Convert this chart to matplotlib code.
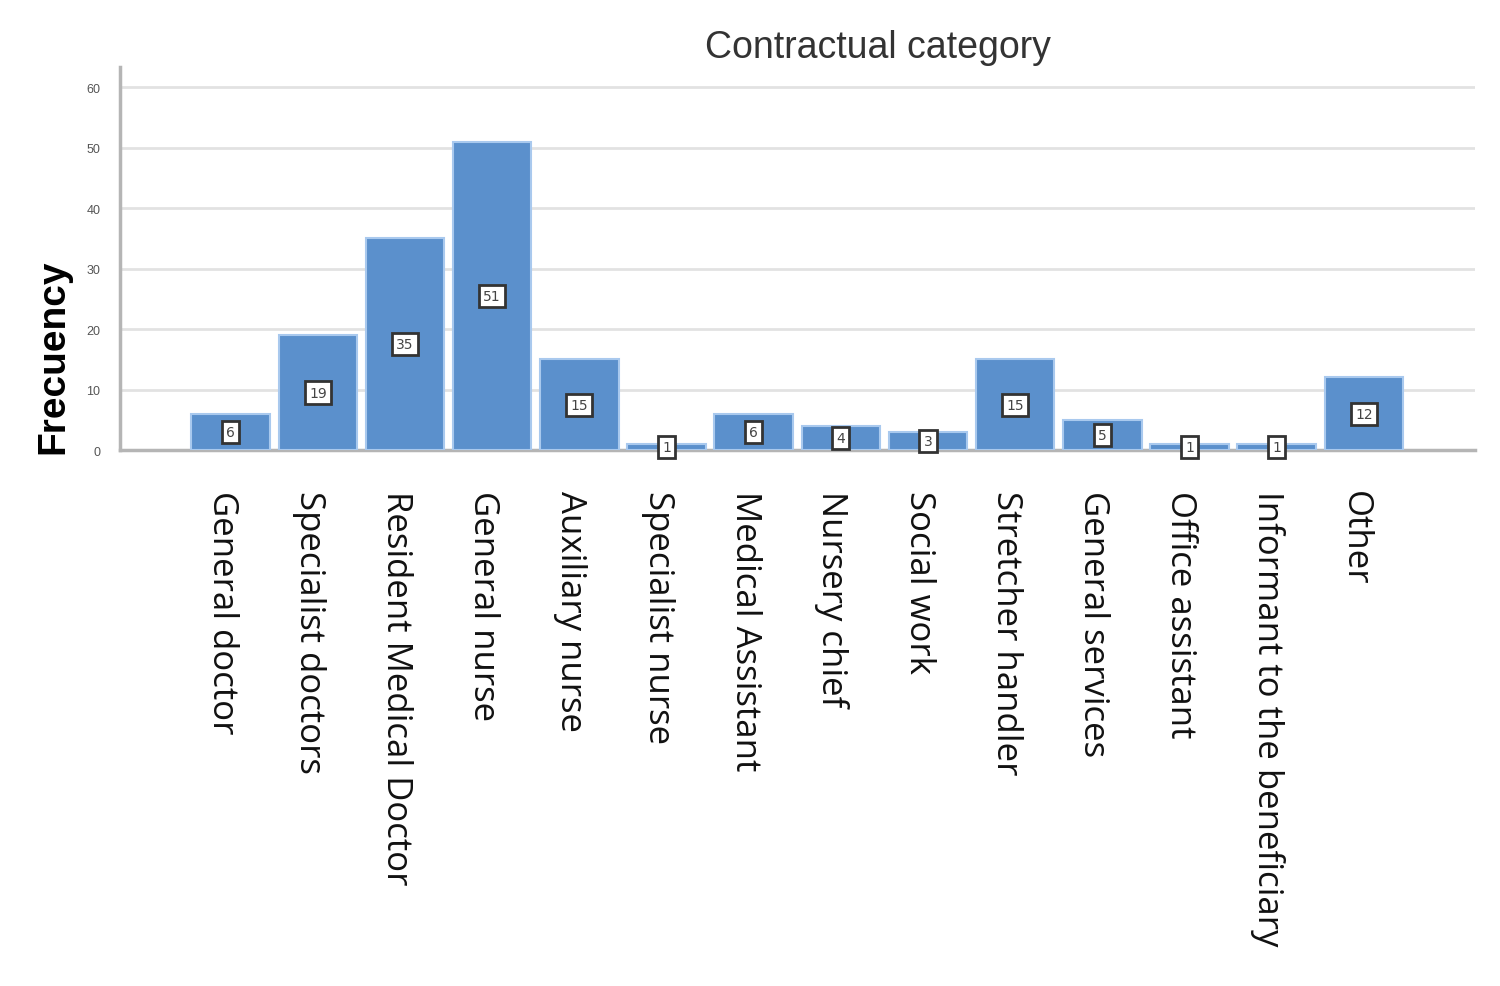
import matplotlib
matplotlib.use("Agg")
import matplotlib.pyplot as plt
import matplotlib.transforms as mtransforms
import numpy as np

categories = ["General doctor", "Specialist doctors", "Resident Medical Doctor",
              "General nurse", "Auxiliary nurse", "Specialist nurse",
              "Medical Assistant", "Nursery chief", "Social work",
              "Stretcher handler", "General services", "Office assistant",
              "Informant to the beneficiary", "Other"]
counts = [6, 19, 35, 51, 15, 1, 6, 4, 3, 15, 5, 1, 1, 12]
yticks = [0, 10, 20, 30, 40, 50, 60]

fig = plt.figure(figsize=(15, 9.87), dpi=100)
ax = fig.add_axes([0.08, 0.543, 0.903, 0.388])

x = np.arange(len(categories))
ax.bar(x, counts, width=0.9, color="#5b90cc", edgecolor="#a9c9ee", linewidth=1.5, zorder=3)

for xi, v in zip(x, counts):
    ax.text(xi, v / 2, str(v), ha="center", va="center", fontsize=10, color="#444444",
            zorder=4, family="DejaVu Sans",
            bbox=dict(boxstyle="square,pad=0.3", facecolor="white", edgecolor="#333333", linewidth=2))

ax.set_xlim(-1.27, len(categories) - 1 + 1.27)
ax.set_ylim(0, 63.3)
ax.set_yticks(yticks)
ax.set_yticklabels([str(t) for t in yticks], fontsize=9, color="#555555", family="Liberation Sans")
ax.yaxis.grid(True, color="#e2e2e2", linewidth=2, zorder=0)
ax.set_axisbelow(True)

ax.set_xticks(x)
ax.set_xticklabels(categories, rotation=270, fontsize=25, family="Open Sans",
                   va="top", ha="center", color="#111111")
ax.tick_params(axis="x", length=0, pad=29)
ax.tick_params(axis="y", length=0, pad=14)
offset = mtransforms.ScaledTranslation(-9 / 100, 0, fig.dpi_scale_trans)
for lbl in ax.get_xticklabels():
    lbl.set_transform(lbl.get_transform() + offset)

for s in ["top", "right"]:
    ax.spines[s].set_visible(False)
ax.spines["left"].set_color("#b5b5b5")
ax.spines["left"].set_linewidth(2.5)
ax.spines["bottom"].set_color("#b5b5b5")
ax.spines["bottom"].set_linewidth(2.5)

ax.set_ylabel("Frecuency", fontsize=28, fontweight="bold", family="Liberation Sans",
              color="black")
ax.yaxis.set_label_coords(-0.036, 0.245)

fig.text(0.585, 0.951, "Contractual category", ha="center", va="center",
         fontsize=27, color="#333333", family="Liberation Sans")

fig.savefig("out.png", dpi=100, facecolor="white")
